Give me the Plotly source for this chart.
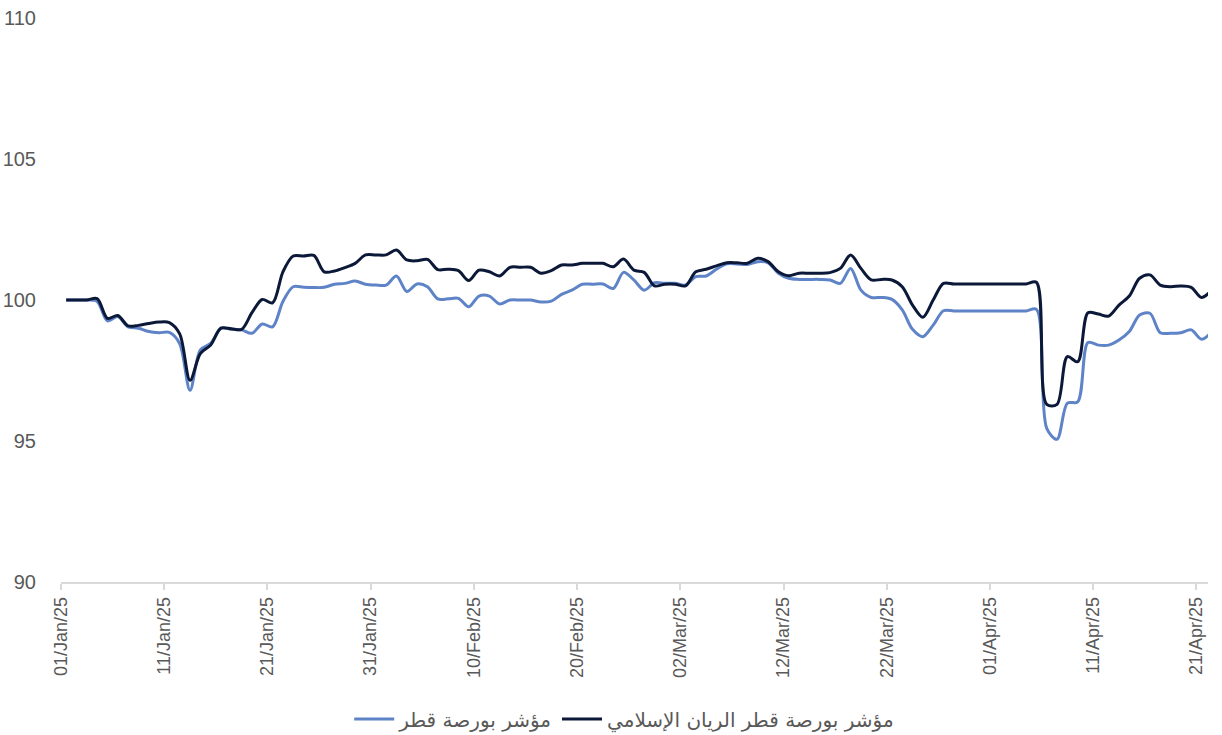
import pandas as pd
import plotly.graph_objects as go

# Daily observations, 01 Jan 2025 .. 22 Apr 2025 (rebased to 100)
start_date = "2025-01-01 12:00"
n_days = 112

qe_index = [
    100.0, 100.0, 100.0, 99.95, 99.26, 99.41, 99.05, 99.0, 98.88, 98.84,
    98.85, 98.45, 96.8, 98.23, 98.46, 99.0, 98.96, 98.94, 98.82, 99.15,
    99.05, 99.95, 100.47, 100.45, 100.44, 100.45, 100.56, 100.59, 100.67, 100.56,
    100.53, 100.53, 100.85, 100.3, 100.57, 100.47, 100.04, 100.04, 100.06, 99.76,
    100.14, 100.14, 99.86, 100.0, 100.0, 100.0, 99.93, 99.96, 100.2, 100.35,
    100.56, 100.56, 100.57, 100.41, 100.98, 100.71, 100.35, 100.61, 100.59, 100.59,
    100.53, 100.83, 100.85, 101.09, 101.28, 101.28, 101.26, 101.36, 101.32, 100.95,
    100.77, 100.73, 100.73, 100.73, 100.71, 100.59, 101.12, 100.35, 100.09, 100.09,
    100.02, 99.65, 98.96, 98.7, 99.11, 99.62, 99.61, 99.61, 99.61, 99.61,
    99.61, 99.61, 99.61, 99.61, 99.67, 95.45, 95.06, 96.34, 96.39, 98.49,
    98.4, 98.4, 98.58, 98.88, 99.47, 99.53, 98.84, 98.82, 98.84, 98.94,
    98.61, 98.88,
]

qe_rayan_islamic = [
    100.0, 100.0, 100.0, 100.05, 99.35, 99.45, 99.08, 99.1, 99.17, 99.22,
    99.2, 98.8, 97.15, 98.1, 98.4, 99.0, 98.98, 98.96, 99.55, 100.02,
    99.9, 101.0, 101.56, 101.56, 101.58, 101.0, 101.03, 101.15, 101.3, 101.6,
    101.6, 101.6, 101.77, 101.42, 101.39, 101.44, 101.08, 101.09, 101.04, 100.69,
    101.06, 101.0, 100.85, 101.16, 101.16, 101.16, 100.95, 101.04, 101.24, 101.24,
    101.3, 101.3, 101.3, 101.18, 101.45, 101.06, 100.98, 100.5, 100.56, 100.56,
    100.5, 101.0, 101.09, 101.21, 101.32, 101.32, 101.3, 101.48, 101.36, 101.0,
    100.86, 100.95, 100.95, 100.95, 100.97, 101.12, 101.6, 101.12, 100.71, 100.73,
    100.71, 100.47, 99.82, 99.39, 100.0, 100.59, 100.57, 100.57, 100.57, 100.57,
    100.57, 100.57, 100.57, 100.57, 100.63, 96.3, 96.3, 97.99, 97.81, 99.55,
    99.5, 99.43, 99.82, 100.14, 100.77, 100.89, 100.53, 100.47, 100.5, 100.45,
    100.09, 100.35,
]

series_names = ["مؤشر بورصة قطر", "مؤشر بورصة قطر الريان الإسلامي"]
y_ticks = [90, 95, 100, 105, 110]

dates = pd.date_range(start_date, periods=n_days, freq="D")

light_blue = "#5E83C7"
navy = "#0B1838"
grey_text = "#595959"
axis_grey = "#D9D9D9"
font_family = "Arial, 'Liberation Sans', 'DejaVu Sans', sans-serif"

fig = go.Figure()
fig.add_trace(go.Scatter(
    x=dates, y=qe_index, name=series_names[0], mode="lines",
    line=dict(color=light_blue, width=3, shape="spline", smoothing=0.9),
))
fig.add_trace(go.Scatter(
    x=dates, y=qe_rayan_islamic, name=series_names[1], mode="lines",
    line=dict(color=navy, width=3, shape="spline", smoothing=0.9),
))

fig.update_layout(
    width=1222, height=735,
    margin=dict(l=61, r=14, t=18, b=153, autoexpand=False),
    paper_bgcolor="white", plot_bgcolor="white",
    font=dict(family=font_family, size=18, color=grey_text),
    showlegend=True,
    legend=dict(
        orientation="h", x=0.491, xanchor="center", y=-0.243, yanchor="middle",
        font=dict(family="'DejaVu Sans', sans-serif", size=20, color=grey_text),
        itemwidth=40, tracegroupgap=0,
    ),
)

fig.update_xaxes(
    type="date", automargin=False,
    range=["2025-01-01 00:00", "2025-04-22 03:00"],
    tick0="2025-01-01", dtick=10 * 86400000,
    tickformat="%d/%b/%y", tickangle=-90,
    tickfont=dict(size=18, color=grey_text),
    showgrid=False, zeroline=False,
    showline=True, linecolor=axis_grey, linewidth=1.5,
    ticks="outside", ticklen=6, tickcolor=axis_grey, tickwidth=1.5,
)

fig.update_yaxes(
    automargin=False, ticklabeloverflow="allow",
    range=[90, 110], tickvals=y_ticks,
    tickfont=dict(size=20, color=grey_text),
    showgrid=False, zeroline=False, showline=False,
    ticks="outside", ticklen=20, tickcolor="rgba(0,0,0,0)",
)

fig.write_html(
    "out.html",
    config={"displayModeBar": False},
    post_script="document.body.style.margin='0';document.body.style.padding='0';",
)
